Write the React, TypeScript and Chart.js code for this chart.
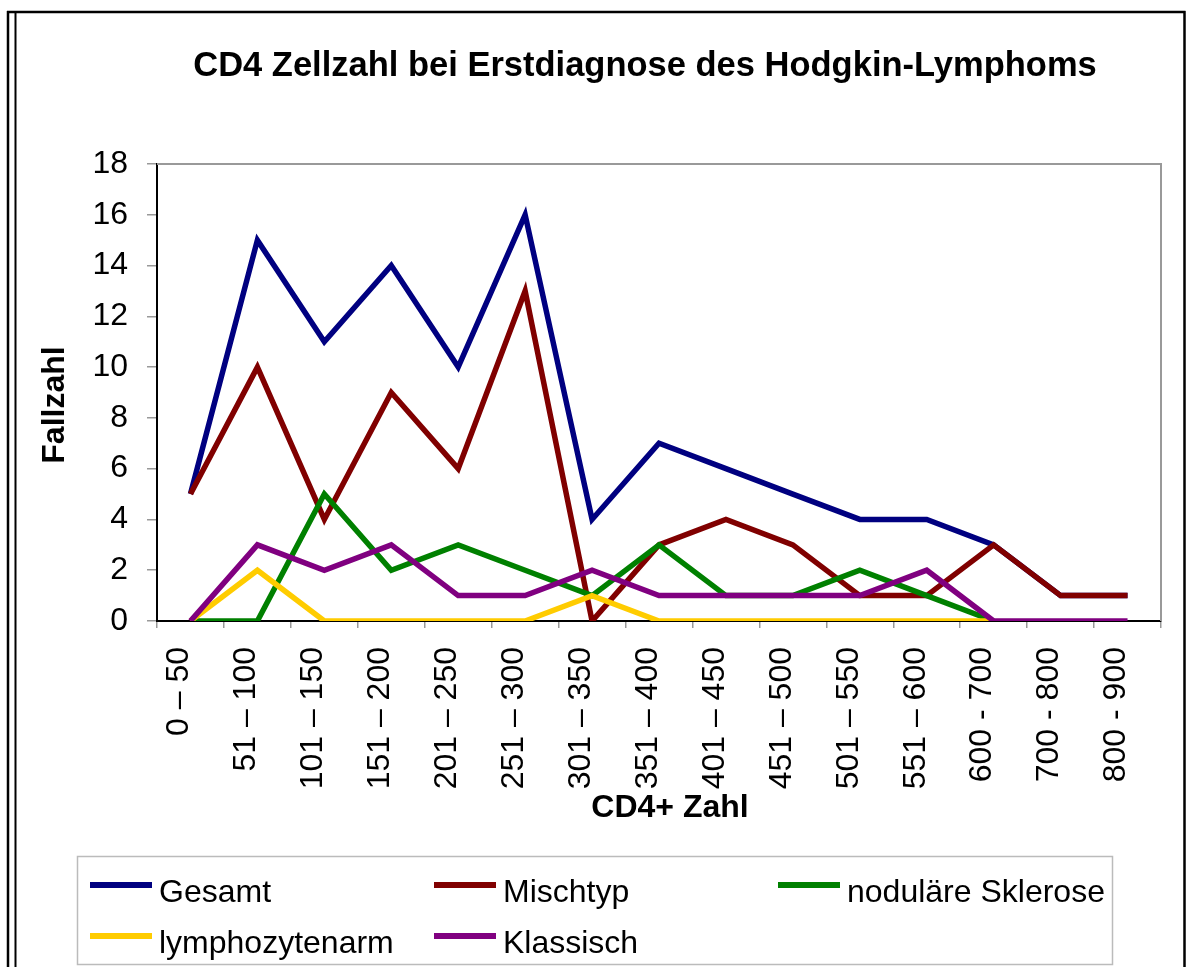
import React, { useEffect, useRef } from 'react';
import { Chart, registerables } from 'chart.js';

Chart.register(...registerables);

const FONT = '"Liberation Sans", Arial, Helvetica, sans-serif';

const chartTitle = 'CD4 Zellzahl bei Erstdiagnose des Hodgkin-Lymphoms';
const xTitle = 'CD4+ Zahl';
const yTitle = 'Fallzahl';

const categories = [
  '0 – 50', '51 – 100', '101 – 150', '151 – 200', '201 – 250', '251 – 300',
  '301 – 350', '351 – 400', '401 – 450', '451 – 500', '501 – 550', '551 – 600',
  '600 - 700', '700 - 800', '800 - 900',
];

const gesamt = [5, 15, 11, 14, 10, 16, 4, 7, 6, 5, 4, 4, 3, 1, 1];
const mischtyp = [5, 10, 4, 9, 6, 13, 0, 3, 4, 3, 1, 1, 3, 1, 1];
const nodulaere = [0, 0, 5, 2, 3, 2, 1, 3, 1, 1, 2, 1, 0];
const lymphozytenarm = [0, 2, 0, 0, 0, 0, 1, 0, 0, 0, 0, 0, 0];
const klassisch = [0, 3, 2, 3, 1, 1, 2, 1, 1, 1, 1, 2, 0, 0, 0];

const seriesNames = ['Gesamt', 'Mischtyp', 'noduläre Sklerose', 'lymphozytenarm', 'Klassisch'];
const seriesColors = ['#000080', '#800000', '#008000', '#FFCC00', '#800080'];

const yMin = 0;
const yMax = 18;
const yStep = 2;

const W = 1188;
const H = 967;

const decorPlugin = {
  id: 'decor',
  beforeDraw(chart: any) {
    const ctx = chart.ctx;
    ctx.save();
    ctx.fillStyle = '#ffffff';
    ctx.fillRect(0, 0, W, H);
    ctx.strokeStyle = '#000000';
    ctx.lineWidth = 2.5;
    ctx.beginPath();
    ctx.moveTo(8, 11);
    ctx.lineTo(8, H);
    ctx.moveTo(7, 12);
    ctx.lineTo(1185.5, 12);
    ctx.moveTo(1184.5, 11);
    ctx.lineTo(1184.5, H);
    ctx.stroke();
    ctx.lineWidth = 2;
    ctx.beginPath();
    ctx.moveTo(15.5, 12);
    ctx.lineTo(15.5, H);
    ctx.stroke();
    ctx.restore();
  },
  afterDraw(chart: any) {
    const ctx = chart.ctx;
    const a = chart.chartArea;
    ctx.save();
    // plot area top/right border
    ctx.strokeStyle = '#999999';
    ctx.lineWidth = 2;
    ctx.beginPath();
    ctx.moveTo(a.left, a.top);
    ctx.lineTo(a.right, a.top);
    ctx.lineTo(a.right, a.bottom);
    ctx.stroke();

    ctx.fillStyle = '#000000';
    // title
    ctx.font = `bold 34.5px ${FONT}`;
    ctx.textAlign = 'center';
    ctx.textBaseline = 'alphabetic';
    ctx.fillText(chartTitle, 645, 76);

    // x title
    ctx.font = `bold 32px ${FONT}`;
    ctx.fillText(xTitle, 670, 817);

    // y title
    ctx.save();
    ctx.translate(64, 405);
    ctx.rotate(-Math.PI / 2);
    ctx.fillText(yTitle, 0, 0);
    ctx.restore();

    // legend
    ctx.strokeStyle = '#bbbbbb';
    ctx.lineWidth = 1.5;
    ctx.strokeRect(77.5, 856.5, 1035, 108);
    const colX = [90, 434, 778];
    const rowY = [885, 936];
    const lineLen = 62;
    ctx.font = `32px ${FONT}`;
    ctx.textAlign = 'left';
    chart.data.datasets.forEach((ds: any, i: number) => {
      const col = i % 3;
      const row = Math.floor(i / 3);
      const x = colX[col];
      const y = rowY[row];
      ctx.strokeStyle = ds.borderColor;
      ctx.lineWidth = 6;
      ctx.lineCap = 'butt';
      ctx.beginPath();
      ctx.moveTo(x, y);
      ctx.lineTo(x + lineLen, y);
      ctx.stroke();
      ctx.fillStyle = '#000000';
      ctx.fillText(ds.label, x + lineLen + 7, y + 17);
    });
    ctx.restore();
  },
};

export default function App() {
  const ref = useRef<HTMLCanvasElement | null>(null);

  useEffect(() => {
    if (!ref.current) return;
    const dataArrays = [gesamt, mischtyp, nodulaere, lymphozytenarm, klassisch];
    const chart = new Chart(ref.current, {
      type: 'line',
      data: {
        labels: categories,
        datasets: dataArrays.map((d, i) => ({
          label: seriesNames[i],
          data: d,
          borderColor: seriesColors[i],
          backgroundColor: seriesColors[i],
          borderWidth: 5.5,
          pointRadius: 0,
          pointHoverRadius: 0,
          tension: 0,
          fill: false,
          borderJoinStyle: 'miter' as const,
          borderCapStyle: 'butt' as const,
          order: 5 - i,
        })),
      },
      options: {
        animation: false,
        responsive: false,
        devicePixelRatio: 1,
        events: [],
        layout: {
          padding: { left: 0, top: 164, right: W - 1161, bottom: 0 },
        },
        plugins: {
          legend: { display: false },
          title: { display: false },
          tooltip: { enabled: false },
        },
        scales: {
          x: {
            type: 'category',
            offset: true,
            grid: {
              offset: true,
              drawOnChartArea: false,
              drawTicks: true,
              tickLength: 7,
              color: '#999999',
              lineWidth: 1.5,
            },
            border: { display: true, color: '#000000', width: 2 },
            ticks: {
              autoSkip: false,
              minRotation: 90,
              maxRotation: 90,
              padding: 19,
              labelOffset: -11,
              color: '#000000',
              font: { family: FONT, size: 32 },
            },
            afterFit: (scale: any) => {
              scale.height = H - 621;
            },
          },
          y: {
            min: yMin,
            max: yMax,
            ticks: {
              stepSize: yStep,
              padding: 19,
              color: '#000000',
              font: { family: FONT, size: 32 },
            },
            grid: {
              drawOnChartArea: false,
              drawTicks: true,
              tickLength: 10,
              color: '#999999',
              lineWidth: 1.5,
            },
            border: { display: true, color: '#000000', width: 2 },
            afterFit: (scale: any) => {
              scale.width = 157;
            },
          },
        },
      },
      plugins: [decorPlugin],
    });
    return () => chart.destroy();
  }, []);

  return (
    <div style={{ position: 'fixed', left: 0, top: 0, width: W, height: H, background: '#fff' }}>
      <canvas ref={ref} width={W} height={H} style={{ width: W, height: H, display: 'block' }} />
    </div>
  );
}
